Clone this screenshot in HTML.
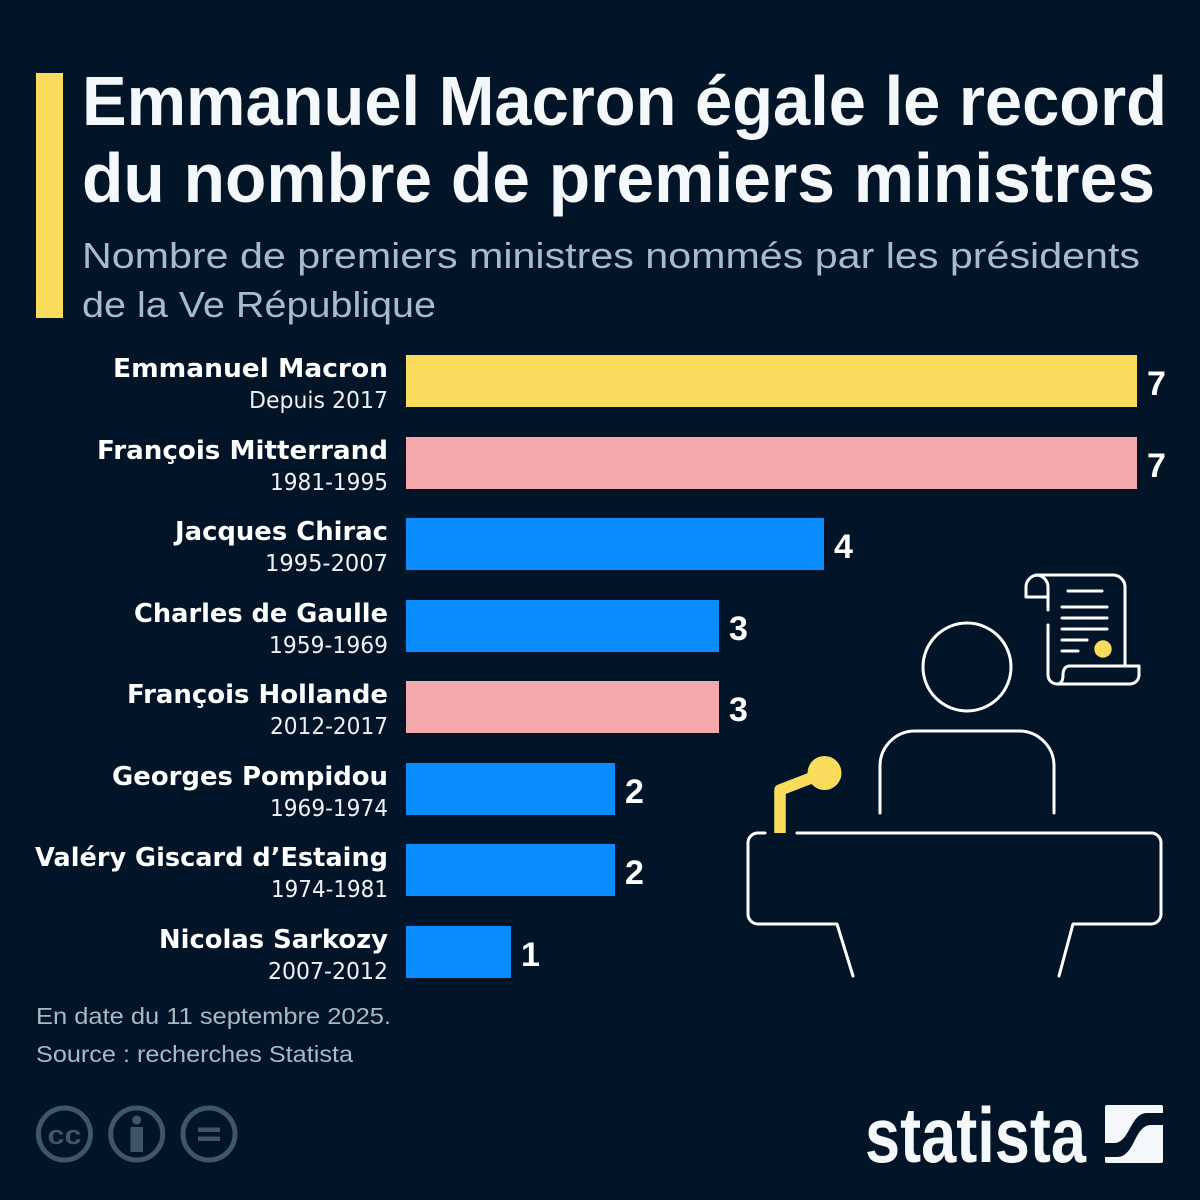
<!DOCTYPE html>
<html>
<head>
<meta charset="utf-8">
<style>
  html,body{margin:0;padding:0;background:#011428;}
  svg{display:block;}
  .t{font-family:"Liberation Sans",sans-serif;font-weight:bold;fill:#f5f8fb;}
  .st{font-family:"Liberation Sans",sans-serif;fill:#a7bccb;}
  .nm{font-family:"DejaVu Sans","Liberation Sans",sans-serif;font-weight:bold;fill:#ffffff;}
  .sb{font-family:"DejaVu Sans","Liberation Sans",sans-serif;fill:#eef2f5;}
  .v{font-family:"Liberation Sans",sans-serif;font-weight:bold;fill:#ffffff;}
  .ft{font-family:"Liberation Sans",sans-serif;fill:#a9b8c3;}
</style>
</head>
<body>
<svg width="1200" height="1200" viewBox="0 0 1200 1200" xmlns="http://www.w3.org/2000/svg">
  <rect x="0" y="0" width="1200" height="1200" fill="#011428"/>

  <!-- accent bar -->
  <rect x="36" y="73" width="27" height="245" fill="#F9DC5C"/>

  <!-- title -->
  <text class="t" x="82" y="125" font-size="70" textLength="1085" lengthAdjust="spacingAndGlyphs">Emmanuel Macron égale le record</text>
  <text class="t" x="82" y="202" font-size="70" textLength="1073" lengthAdjust="spacingAndGlyphs">du nombre de premiers ministres</text>

  <!-- subtitle -->
  <text class="st" x="82" y="268" font-size="36" textLength="1058" lengthAdjust="spacingAndGlyphs">Nombre de premiers ministres nommés par les présidents</text>
  <text class="st" x="82" y="317" font-size="36" textLength="354" lengthAdjust="spacingAndGlyphs">de la Ve République</text>

  <!-- bars -->
  <rect x="406" y="355" width="731" height="52" fill="#F9DC5C"/>
  <rect x="406" y="437" width="731" height="52" fill="#F5A9AD"/>
  <rect x="406" y="518" width="418" height="52" fill="#0A8CFF"/>
  <rect x="406" y="600" width="313" height="52" fill="#0A8CFF"/>
  <rect x="406" y="681" width="313" height="52" fill="#F5A9AD"/>
  <rect x="406" y="763" width="209" height="52" fill="#0A8CFF"/>
  <rect x="406" y="844" width="209" height="52" fill="#0A8CFF"/>
  <rect x="406" y="926" width="105" height="52" fill="#0A8CFF"/>

  <!-- values -->
  <text class="v" x="1147" y="395" font-size="34">7</text>
  <text class="v" x="1147" y="477" font-size="34">7</text>
  <text class="v" x="834" y="558" font-size="34">4</text>
  <text class="v" x="729" y="640" font-size="34">3</text>
  <text class="v" x="729" y="721" font-size="34">3</text>
  <text class="v" x="625" y="803" font-size="34">2</text>
  <text class="v" x="625" y="884" font-size="34">2</text>
  <text class="v" x="521" y="966" font-size="34">1</text>

  <!-- names -->
  <text class="nm" x="113" y="377" font-size="26" textLength="275" lengthAdjust="spacingAndGlyphs">Emmanuel Macron</text>
  <text class="sb" x="249" y="408" font-size="23" textLength="139" lengthAdjust="spacingAndGlyphs">Depuis 2017</text>

  <text class="nm" x="97" y="459" font-size="26" textLength="291" lengthAdjust="spacingAndGlyphs">François Mitterrand</text>
  <text class="sb" x="270" y="490" font-size="23" textLength="118" lengthAdjust="spacingAndGlyphs">1981-1995</text>

  <text class="nm" x="175" y="540" font-size="26" textLength="213" lengthAdjust="spacingAndGlyphs">Jacques Chirac</text>
  <text class="sb" x="265" y="571" font-size="23" textLength="123" lengthAdjust="spacingAndGlyphs">1995-2007</text>

  <text class="nm" x="134" y="622" font-size="26" textLength="254" lengthAdjust="spacingAndGlyphs">Charles de Gaulle</text>
  <text class="sb" x="269" y="653" font-size="23" textLength="119" lengthAdjust="spacingAndGlyphs">1959-1969</text>

  <text class="nm" x="127" y="703" font-size="26" textLength="261" lengthAdjust="spacingAndGlyphs">François Hollande</text>
  <text class="sb" x="270" y="734" font-size="23" textLength="118" lengthAdjust="spacingAndGlyphs">2012-2017</text>

  <text class="nm" x="112" y="785" font-size="26" textLength="276" lengthAdjust="spacingAndGlyphs">Georges Pompidou</text>
  <text class="sb" x="270" y="816" font-size="23" textLength="118" lengthAdjust="spacingAndGlyphs">1969-1974</text>

  <text class="nm" x="35" y="866" font-size="26" textLength="353" lengthAdjust="spacingAndGlyphs">Valéry Giscard d’Estaing</text>
  <text class="sb" x="271" y="897" font-size="23" textLength="117" lengthAdjust="spacingAndGlyphs">1974-1981</text>

  <text class="nm" x="159" y="948" font-size="26" textLength="229" lengthAdjust="spacingAndGlyphs">Nicolas Sarkozy</text>
  <text class="sb" x="268" y="979" font-size="23" textLength="120" lengthAdjust="spacingAndGlyphs">2007-2012</text>

  <!-- illustration -->
  <g fill="none" stroke="#ffffff" stroke-width="3" stroke-linecap="round" stroke-linejoin="round">
    <path d="M1026,597 L1026,587 A12,12 0 0 1 1038,575 L1113,575 A12,12 0 0 1 1125,587 L1125,666"/>
    <path d="M1026,597 L1048,597"/>
    <path d="M1048,610 L1048,587 A12,12 0 0 0 1036,575"/>
    <path d="M1048,625 L1048,675 A9,9 0 0 0 1057,684 L1130,684 A9,9 0 0 0 1139,675 L1139,666 L1069,666 Q1063,667 1063,675 Q1063,684 1057,684"/>
    <path d="M1068,591 L1102,591"/>
    <path d="M1062,607 L1107,607"/>
    <path d="M1062,618 L1107,618"/>
    <path d="M1062,629 L1107,629"/>
    <path d="M1062,640 L1087,640"/>
    <path d="M1062,651 L1078,651"/>
    <circle cx="967" cy="667" r="44"/>
    <path d="M880,813 L880,766 A35,35 0 0 1 915,731 L1019,731 A35,35 0 0 1 1054,766 L1054,813"/>
    <path d="M765,833 L757,833 A10,10 0 0 0 748,843 L748,914 A10,10 0 0 0 758,924 L837,924 L853,976"/>
    <path d="M797,833 L1152,833 A10,10 0 0 1 1161,843 L1161,914 A10,10 0 0 1 1151,924 L1073,924 L1059,976"/>
  </g>
  <circle cx="1103" cy="649" r="8.7" fill="#F9DC5C"/>
  <path d="M780,833 L780,790 L824,773" fill="none" stroke="#F9DC5C" stroke-width="11.5" stroke-linejoin="round"/>
  <circle cx="824.5" cy="773" r="17" fill="#F9DC5C"/>

  <!-- footer -->
  <text class="ft" x="36" y="1024" font-size="23" textLength="355" lengthAdjust="spacingAndGlyphs">En date du 11 septembre 2025.</text>
  <text class="ft" x="36" y="1062" font-size="23" textLength="317" lengthAdjust="spacingAndGlyphs">Source : recherches Statista</text>

  <!-- CC icons -->
  <g fill="none" stroke="#3f5568" stroke-width="5">
    <circle cx="64.5" cy="1134" r="26"/>
    <circle cx="136.7" cy="1134" r="26"/>
    <circle cx="209" cy="1134" r="26"/>
  </g>
  <text x="64.5" y="1144" font-size="27" text-anchor="middle" font-family="'Liberation Sans',sans-serif" font-weight="bold" fill="#3f5568" textLength="34" lengthAdjust="spacingAndGlyphs">cc</text>
  <circle cx="136.7" cy="1120" r="4.5" fill="#3f5568"/>
  <rect x="130.5" y="1127" width="12.5" height="25" fill="#3f5568"/>
  <rect x="198" y="1127.5" width="22" height="4.5" fill="#3f5568"/>
  <rect x="198" y="1136.5" width="22" height="4.5" fill="#3f5568"/>

  <!-- statista logo -->
  <text x="865" y="1162" font-size="78" font-family="'Liberation Sans',sans-serif" font-weight="bold" fill="#f5f8fb" textLength="221" lengthAdjust="spacingAndGlyphs">statista</text>
  <rect x="1105" y="1105" width="58" height="58" rx="2" fill="#f5f8fb"/>
  <path d="M1105,1143 L1114,1143 C1130,1143 1130,1113 1147,1113 L1163,1113 L1163,1125 L1151,1125 C1134,1125 1135,1157 1117,1157 L1105,1157 Z" fill="#011428"/>
</svg>
</body>
</html>
